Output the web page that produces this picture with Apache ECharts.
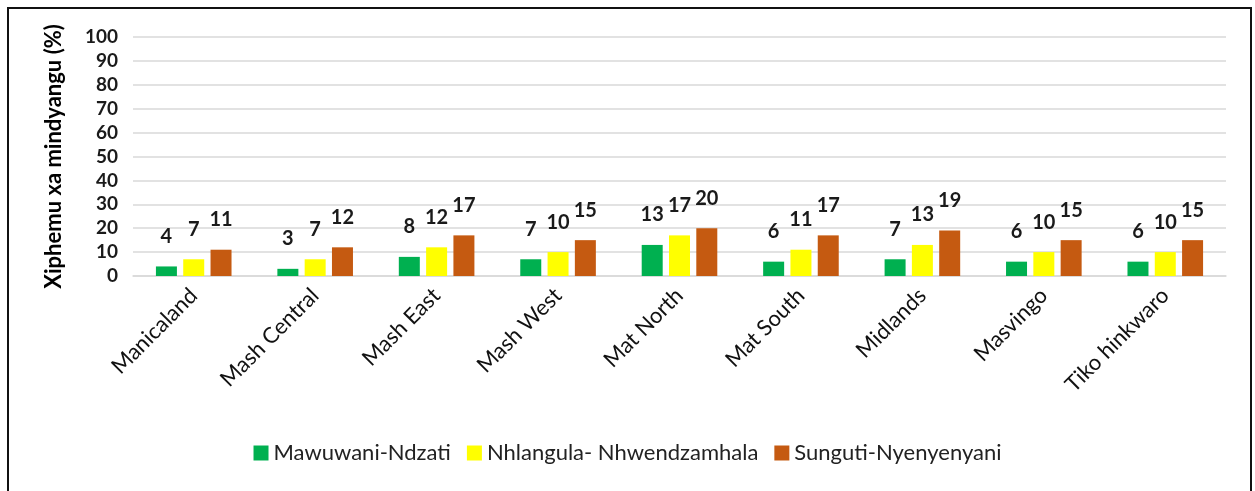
<!DOCTYPE html>
<html>
<head>
<meta charset="utf-8">
<script src="https://cdn.jsdelivr.net/npm/echarts@6/dist/echarts.min.js"></script>
<style>
  html, body { margin: 0; padding: 0; background: #fff; }
  #chart { width: 1255px; height: 491px; }
</style>
</head>
<body>
<div id="chart"></div>
<script>
// 数据
const categories = ['Manicaland', 'Mash Central', 'Mash East', 'Mash West', 'Mat North', 'Mat South', 'Midlands', 'Masvingo', 'Tiko hinkwaro']
const seriesNames = ['Mawuwani-Ndzati', 'Nhlangula- Nhwendzamhala', 'Sunguti-Nyenyenyani']
const ndzati = [4, 3, 8, 7, 13, 6, 7, 6, 6]
const nhwendzamhala = [7, 7, 12, 10, 17, 11, 13, 10, 10]
const nyenyenyani = [11, 12, 17, 15, 20, 17, 19, 15, 15]
const colors = ['#00B050', '#FFFF00', '#C55A11']

const font = 'Lato, "Open Sans", sans-serif'
const chart = echarts.init(document.getElementById('chart'))

const makeSeries = (name, data, color) => ({
  name: name,
  type: 'bar',
  data: data,
  barWidth: 21,
  barGap: '30%',
  itemStyle: { color: color },
  label: {
    show: true,
    position: 'top',
    distance: 20,
    color: '#1a1a1a',
    fontSize: 20,
    fontFamily: font,
    fontWeight: 'bold'
  }
})

const option = {
  animation: false,
  textStyle: { fontFamily: font },
  graphic: [{
    type: 'rect',
    shape: { x: 8, y: 8, width: 1243, height: 500 },
    style: { fill: 'none', stroke: '#111', lineWidth: 2 },
    silent: true
  }],
  grid: { top: 37, left: 133, right: 29, bottom: 215 },
  legend: {
    bottom: 22,
    left: 'center',
    itemWidth: 15,
    itemHeight: 15,
    itemGap: 16,
    icon: 'rect',
    textStyle: { fontSize: 22, color: '#222', fontFamily: font },
    data: seriesNames
  },
  xAxis: {
    type: 'category',
    data: categories,
    axisLine: { show: true, lineStyle: { color: '#d9d9d9', width: 1.5 } },
    axisTick: { show: false },
    axisLabel: {
      rotate: 45,
      interval: 0,
      margin: 16,
      fontSize: 22,
      color: '#111',
      fontFamily: font
    }
  },
  yAxis: {
    type: 'value',
    min: 0,
    max: 100,
    interval: 10,
    name: 'Xiphemu xa mindyangu (%)',
    nameLocation: 'middle',
    nameGap: 68,
    nameTextStyle: { fontSize: 22, fontWeight: 'bold', color: '#000', fontFamily: font },
    axisLine: { show: false },
    axisTick: { show: false },
    axisLabel: { fontSize: 19, color: '#1a1a1a', margin: 15, fontFamily: font, fontWeight: 'bold' },
    splitLine: { show: true, lineStyle: { color: '#d9d9d9', width: 1.5 } }
  },
  series: [
    makeSeries(seriesNames[0], ndzati, colors[0]),
    makeSeries(seriesNames[1], nhwendzamhala, colors[1]),
    makeSeries(seriesNames[2], nyenyenyani, colors[2])
  ]
}
chart.setOption(option)
</script>
</body>
</html>
